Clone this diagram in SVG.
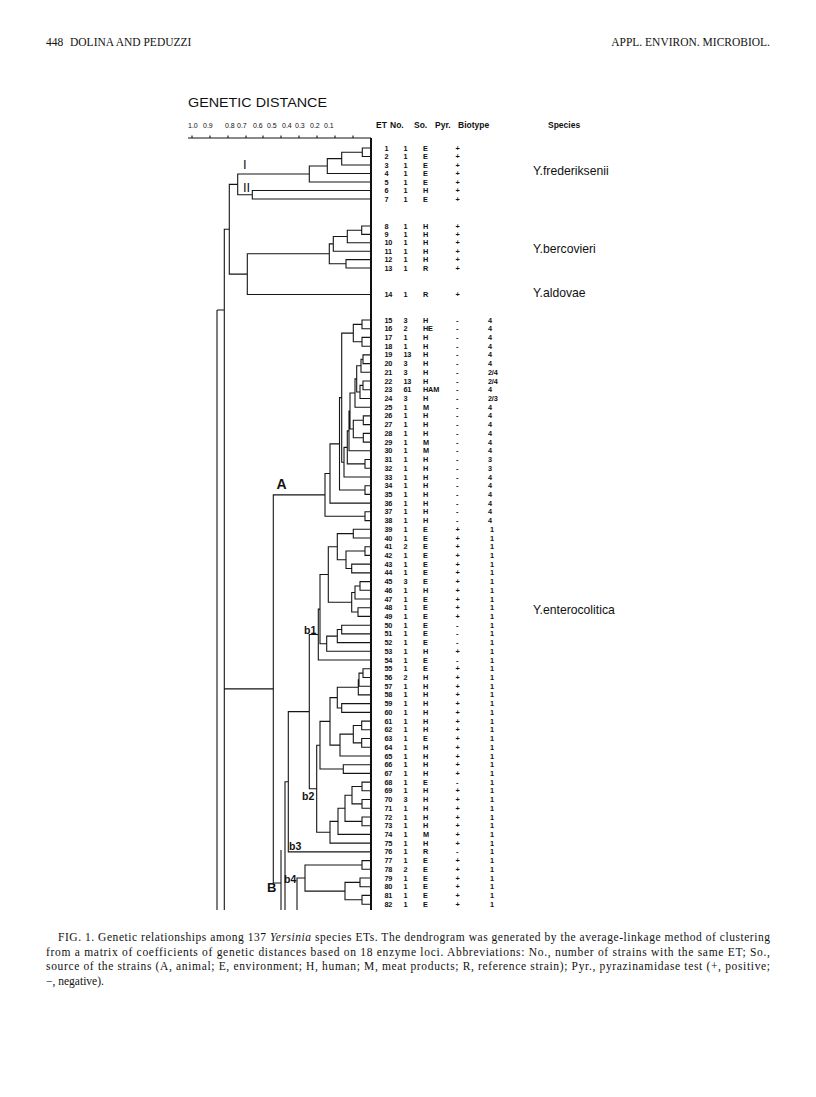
<svg xmlns="http://www.w3.org/2000/svg" width="816" height="1097" viewBox="0 0 816 1097">
<style>
.hd{font-family:"Liberation Serif",serif;font-size:11.5px;fill:#111}
.cap{font-family:"Liberation Serif",serif;font-size:11.5px;fill:#111}
.ax{font-family:"Liberation Sans",sans-serif;font-size:7px;fill:#111}
.ch{font-family:"Liberation Sans",sans-serif;font-size:8.5px;font-weight:bold;fill:#111}
.t{font-family:"Liberation Sans",sans-serif;font-size:7.3px;font-weight:bold;letter-spacing:-0.2px;fill:#111}
.sp{font-family:"Liberation Sans",sans-serif;font-size:12.2px;fill:#111}
.lb{font-family:"Liberation Sans",sans-serif;font-size:13px;fill:#111}
.lbb{font-family:"Liberation Sans",sans-serif;font-size:10.5px;font-weight:bold;fill:#111}
.ln{fill:none;stroke:#151515;stroke-width:1.1}
</style>
<rect width="816" height="1097" fill="#fff"/>
<g id="header">
<text class="hd" x="46" y="46">448</text>
<text class="hd" x="70" y="46">DOLINA AND PEDUZZI</text>
<text class="hd" x="770" y="46" text-anchor="end">APPL. ENVIRON. MICROBIOL.</text>
</g>
<g id="axis">
<text x="188" y="107" font-family="Liberation Sans, sans-serif" font-size="13.5" textLength="139" lengthAdjust="spacingAndGlyphs" fill="#111">GENETIC DISTANCE</text>
<text class="ax" x="188" y="128">1.0</text>
<text class="ax" x="203" y="128">0.9</text>
<text class="ax" x="225" y="128">0.8</text>
<text class="ax" x="237" y="128">0.7</text>
<text class="ax" x="253" y="128">0.6</text>
<text class="ax" x="267" y="128">0.5</text>
<text class="ax" x="282" y="128">0.4</text>
<text class="ax" x="295" y="128">0.3</text>
<text class="ax" x="310" y="128">0.2</text>
<text class="ax" x="324" y="128">0.1</text>
<path class="ln" d="M188 138H371M192 138V135.5M210 138V135.5M228 138V135.5M246 138V135.5M263 138V135.5M281 138V135.5M299 138V135.5M317 138V135.5M335 138V135.5M353 138V135.5"/>
</g>
<g id="column-headers">
<text class="ch" x="376" y="128">ET</text>
<text class="ch" x="390" y="128">No.</text>
<text class="ch" x="414" y="128">So.</text>
<text class="ch" x="435" y="128">Pyr.</text>
<text class="ch" x="458" y="128">Biotype</text>
<text class="ch" x="548" y="128">Species</text>
</g>
<g id="connectors">
<path d="M371 138V910" fill="none" stroke="#111" stroke-width="2"/>
<path class="ln" d="M371 148H362.3V156.5H371M362.3 152.25H341.7V165H371M341.7 158.6H327.3V173.5H371M327.3 166.05H309.3V182H371M371 190.5H252.3V199H371M309.3 174H237.7V194.75H252.3"/>
<path class="ln" d="M371 226H361.7V234.4H371M361.7 230.2H347.3V242.8H371M347.3 236.5H333.3V251.2H371M371 259.6H346V268H371M333.3 243.85H329.3V263.8H346M329.3 253.8H247.3V294.5H371M237.7 184.4H229.3V274.15H247.3"/>
<path class="ln" d="M229.3 229.3H224.3V910M273.3 688.9H224.3M217 310V910M217 310H224.3"/>
<path class="ln" d="M371 320H362V328.7H371M371 337.4H362V346.2H371M362 324.35H353.3V341.8H362M371 354.9H363V363.6H371M363 359.25H361V372.3H371M371 381H363V389.8H371M363 385.4H360V398.5H371M361 365.8H356.7V391.95H360M356.7 378.9H355V407.2H371M371 415.9H363.3V424.6H371M371 433.4H363.3V442.1H371M363.3 420.25H353.3V437.75H363.3M355 393.05H350V429H353.3M350 411H349V450.8H371M371 459.5H365V468.2H371M349 430.9H347.3V463.85H365M347.3 447.4H344V477H371M353.3 333.1H341.7V462.2H344M371 485.7H365V494.4H371M341.7 397.65H339.5V490.05H365M339.5 443.85H330V503.1H371M371 511.8H365V520.6H371M330 473.5H325V516.2H365"/>
<path class="ln" d="M371 529.3H353.3V538H371M371 546.7H365V555.4H371M371 564.1H351.7V572.9H371M365 551.05H346V568.5H351.7M353.3 533.65H337.3V559.8H346M371 581.6H360V590.3H371M360 585.95H355V599H371M371 607.7H358V616.4H371M355 592.5H351.7V612.05H358M337.3 546.7H328.3V602.3H351.7M371 625.2H341.7V633.9H371M341.7 629.55H337.3V642.6H371M337.3 636.1H326.7V651.3H371M328.3 574.5H320V643.7H326.7M320 609.1H318.3V660H371"/>
<path class="ln" d="M371 668.8H363V677.5H371M363 673.15H359V686.2H371M359 679.7H358.3V694.9H371M371 703.6H341.7V712.4H371M358.3 687.3H337.3V708H341.7M371 721.1H361.7V729.8H371M371 738.5H361.7V747.2H371M361.7 725.45H353.3V742.85H361.7M353.3 734.15H340V756H371M337.3 697.65H330V745.1H340M371 764.7H343.3V773.4H371M330 721.4H320V769.05H343.3M371 782.1H362V790.8H371M371 799.5H362V808.3H371M362 786.45H352V803.9H362M371 817H362V825.7H371M352 795.2H345V821.35H362M345 808.3H338V834.4H371M338 821.35H330V843.1H371M320 745.2H316.7V832.2H330M318.3 634.55H309.3V788.7H316.7M309.3 711.6H288.3V851.9H371"/>
<path class="ln" d="M371 860.6H362V869.3H371M371 878H360V886.7H371M371 895.4H362V904.2H371M360 882.35H345V899.8H362M362 864.95H305V891.1H345M305 878H297V910M288.3 781.75H285V910M325 494.85H273.3V883H281M281 850V910"/>
</g>
<g id="cluster-labels">
<text class="lb" x="243" y="168.5">I</text>
<text class="lb" x="243" y="192">II</text>
<text x="276.5" y="489" font-family="Liberation Sans, sans-serif" font-size="14" font-weight="bold" fill="#111">A</text>
<text class="lbb" x="304" y="634">b1</text>
<text class="lbb" x="302" y="800">b2</text>
<text class="lbb" x="289" y="849.5">b3</text>
<text class="lbb" x="284" y="883">b4</text>
<text x="267" y="892" font-family="Liberation Sans, sans-serif" font-size="13" font-weight="bold" fill="#111">B</text>
</g>
<g id="species">
<text class="sp" x="533" y="174.5">Y.frederiksenii</text>
<text class="sp" x="533" y="252.5">Y.bercovieri</text>
<text class="sp" x="533" y="297">Y.aldovae</text>
<text class="sp" x="533" y="613.5">Y.enterocolitica</text>
</g>
<g id="table" class="t">
<text y="150.5"><tspan x="384.5">1</tspan><tspan x="403.5">1</tspan><tspan x="423">E</tspan><tspan x="455.5">+</tspan></text>
<text y="159"><tspan x="384.5">2</tspan><tspan x="403.5">1</tspan><tspan x="423">E</tspan><tspan x="455.5">+</tspan></text>
<text y="167.5"><tspan x="384.5">3</tspan><tspan x="403.5">1</tspan><tspan x="423">E</tspan><tspan x="455.5">+</tspan></text>
<text y="176"><tspan x="384.5">4</tspan><tspan x="403.5">1</tspan><tspan x="423">E</tspan><tspan x="455.5">+</tspan></text>
<text y="184.5"><tspan x="384.5">5</tspan><tspan x="403.5">1</tspan><tspan x="423">E</tspan><tspan x="455.5">+</tspan></text>
<text y="193"><tspan x="384.5">6</tspan><tspan x="403.5">1</tspan><tspan x="423">H</tspan><tspan x="455.5">+</tspan></text>
<text y="201.5"><tspan x="384.5">7</tspan><tspan x="403.5">1</tspan><tspan x="423">E</tspan><tspan x="455.5">+</tspan></text>
<text y="228.5"><tspan x="384.5">8</tspan><tspan x="403.5">1</tspan><tspan x="423">H</tspan><tspan x="455.5">+</tspan></text>
<text y="236.9"><tspan x="384.5">9</tspan><tspan x="403.5">1</tspan><tspan x="423">H</tspan><tspan x="455.5">+</tspan></text>
<text y="245.3"><tspan x="384.5">10</tspan><tspan x="403.5">1</tspan><tspan x="423">H</tspan><tspan x="455.5">+</tspan></text>
<text y="253.7"><tspan x="384.5">11</tspan><tspan x="403.5">1</tspan><tspan x="423">H</tspan><tspan x="455.5">+</tspan></text>
<text y="262.1"><tspan x="384.5">12</tspan><tspan x="403.5">1</tspan><tspan x="423">H</tspan><tspan x="455.5">+</tspan></text>
<text y="270.5"><tspan x="384.5">13</tspan><tspan x="403.5">1</tspan><tspan x="423">R</tspan><tspan x="455.5">+</tspan></text>
<text y="297"><tspan x="384.5">14</tspan><tspan x="403.5">1</tspan><tspan x="423">R</tspan><tspan x="455.5">+</tspan></text>
<text y="322.5"><tspan x="384.5">15</tspan><tspan x="403.5">3</tspan><tspan x="423">H</tspan><tspan x="456">-</tspan><tspan x="488">4</tspan></text>
<text y="331.2"><tspan x="384.5">16</tspan><tspan x="403.5">2</tspan><tspan x="423">HE</tspan><tspan x="456">-</tspan><tspan x="488">4</tspan></text>
<text y="339.9"><tspan x="384.5">17</tspan><tspan x="403.5">1</tspan><tspan x="423">H</tspan><tspan x="456">-</tspan><tspan x="488">4</tspan></text>
<text y="348.7"><tspan x="384.5">18</tspan><tspan x="403.5">1</tspan><tspan x="423">H</tspan><tspan x="456">-</tspan><tspan x="488">4</tspan></text>
<text y="357.4"><tspan x="384.5">19</tspan><tspan x="403.5">13</tspan><tspan x="423">H</tspan><tspan x="456">-</tspan><tspan x="488">4</tspan></text>
<text y="366.1"><tspan x="384.5">20</tspan><tspan x="403.5">3</tspan><tspan x="423">H</tspan><tspan x="456">-</tspan><tspan x="488">4</tspan></text>
<text y="374.8"><tspan x="384.5">21</tspan><tspan x="403.5">3</tspan><tspan x="423">H</tspan><tspan x="456">-</tspan><tspan x="488">2/4</tspan></text>
<text y="383.5"><tspan x="384.5">22</tspan><tspan x="403.5">13</tspan><tspan x="423">H</tspan><tspan x="456">-</tspan><tspan x="488">2/4</tspan></text>
<text y="392.3"><tspan x="384.5">23</tspan><tspan x="403.5">61</tspan><tspan x="423">HAM</tspan><tspan x="456">-</tspan><tspan x="488">4</tspan></text>
<text y="401"><tspan x="384.5">24</tspan><tspan x="403.5">3</tspan><tspan x="423">H</tspan><tspan x="456">-</tspan><tspan x="488">2/3</tspan></text>
<text y="409.7"><tspan x="384.5">25</tspan><tspan x="403.5">1</tspan><tspan x="423">M</tspan><tspan x="456">-</tspan><tspan x="488">4</tspan></text>
<text y="418.4"><tspan x="384.5">26</tspan><tspan x="403.5">1</tspan><tspan x="423">H</tspan><tspan x="456">-</tspan><tspan x="488">4</tspan></text>
<text y="427.1"><tspan x="384.5">27</tspan><tspan x="403.5">1</tspan><tspan x="423">H</tspan><tspan x="456">-</tspan><tspan x="488">4</tspan></text>
<text y="435.9"><tspan x="384.5">28</tspan><tspan x="403.5">1</tspan><tspan x="423">H</tspan><tspan x="456">-</tspan><tspan x="488">4</tspan></text>
<text y="444.6"><tspan x="384.5">29</tspan><tspan x="403.5">1</tspan><tspan x="423">M</tspan><tspan x="456">-</tspan><tspan x="488">4</tspan></text>
<text y="453.3"><tspan x="384.5">30</tspan><tspan x="403.5">1</tspan><tspan x="423">M</tspan><tspan x="456">-</tspan><tspan x="488">4</tspan></text>
<text y="462"><tspan x="384.5">31</tspan><tspan x="403.5">1</tspan><tspan x="423">H</tspan><tspan x="456">-</tspan><tspan x="488">3</tspan></text>
<text y="470.7"><tspan x="384.5">32</tspan><tspan x="403.5">1</tspan><tspan x="423">H</tspan><tspan x="456">-</tspan><tspan x="488">3</tspan></text>
<text y="479.5"><tspan x="384.5">33</tspan><tspan x="403.5">1</tspan><tspan x="423">H</tspan><tspan x="456">-</tspan><tspan x="488">4</tspan></text>
<text y="488.2"><tspan x="384.5">34</tspan><tspan x="403.5">1</tspan><tspan x="423">H</tspan><tspan x="456">-</tspan><tspan x="488">4</tspan></text>
<text y="496.9"><tspan x="384.5">35</tspan><tspan x="403.5">1</tspan><tspan x="423">H</tspan><tspan x="456">-</tspan><tspan x="488">4</tspan></text>
<text y="505.6"><tspan x="384.5">36</tspan><tspan x="403.5">1</tspan><tspan x="423">H</tspan><tspan x="456">-</tspan><tspan x="488">4</tspan></text>
<text y="514.3"><tspan x="384.5">37</tspan><tspan x="403.5">1</tspan><tspan x="423">H</tspan><tspan x="456">-</tspan><tspan x="488">4</tspan></text>
<text y="523.1"><tspan x="384.5">38</tspan><tspan x="403.5">1</tspan><tspan x="423">H</tspan><tspan x="456">-</tspan><tspan x="488">4</tspan></text>
<text y="531.8"><tspan x="384.5">39</tspan><tspan x="403.5">1</tspan><tspan x="423">E</tspan><tspan x="455.5">+</tspan><tspan x="490">1</tspan></text>
<text y="540.5"><tspan x="384.5">40</tspan><tspan x="403.5">1</tspan><tspan x="423">E</tspan><tspan x="455.5">+</tspan><tspan x="490">1</tspan></text>
<text y="549.2"><tspan x="384.5">41</tspan><tspan x="403.5">2</tspan><tspan x="423">E</tspan><tspan x="455.5">+</tspan><tspan x="490">1</tspan></text>
<text y="557.9"><tspan x="384.5">42</tspan><tspan x="403.5">1</tspan><tspan x="423">E</tspan><tspan x="455.5">+</tspan><tspan x="490">1</tspan></text>
<text y="566.6"><tspan x="384.5">43</tspan><tspan x="403.5">1</tspan><tspan x="423">E</tspan><tspan x="455.5">+</tspan><tspan x="490">1</tspan></text>
<text y="575.4"><tspan x="384.5">44</tspan><tspan x="403.5">1</tspan><tspan x="423">E</tspan><tspan x="455.5">+</tspan><tspan x="490">1</tspan></text>
<text y="584.1"><tspan x="384.5">45</tspan><tspan x="403.5">3</tspan><tspan x="423">E</tspan><tspan x="455.5">+</tspan><tspan x="490">1</tspan></text>
<text y="592.8"><tspan x="384.5">46</tspan><tspan x="403.5">1</tspan><tspan x="423">H</tspan><tspan x="455.5">+</tspan><tspan x="490">1</tspan></text>
<text y="601.5"><tspan x="384.5">47</tspan><tspan x="403.5">1</tspan><tspan x="423">E</tspan><tspan x="455.5">+</tspan><tspan x="490">1</tspan></text>
<text y="610.2"><tspan x="384.5">48</tspan><tspan x="403.5">1</tspan><tspan x="423">E</tspan><tspan x="455.5">+</tspan><tspan x="490">1</tspan></text>
<text y="618.9"><tspan x="384.5">49</tspan><tspan x="403.5">1</tspan><tspan x="423">E</tspan><tspan x="455.5">+</tspan><tspan x="490">1</tspan></text>
<text y="627.7"><tspan x="384.5">50</tspan><tspan x="403.5">1</tspan><tspan x="423">E</tspan><tspan x="456">-</tspan><tspan x="490">1</tspan></text>
<text y="636.4"><tspan x="384.5">51</tspan><tspan x="403.5">1</tspan><tspan x="423">E</tspan><tspan x="456">-</tspan><tspan x="490">1</tspan></text>
<text y="645.1"><tspan x="384.5">52</tspan><tspan x="403.5">1</tspan><tspan x="423">E</tspan><tspan x="456">-</tspan><tspan x="490">1</tspan></text>
<text y="653.8"><tspan x="384.5">53</tspan><tspan x="403.5">1</tspan><tspan x="423">H</tspan><tspan x="455.5">+</tspan><tspan x="490">1</tspan></text>
<text y="662.5"><tspan x="384.5">54</tspan><tspan x="403.5">1</tspan><tspan x="423">E</tspan><tspan x="456">-</tspan><tspan x="490">1</tspan></text>
<text y="671.3"><tspan x="384.5">55</tspan><tspan x="403.5">1</tspan><tspan x="423">E</tspan><tspan x="455.5">+</tspan><tspan x="490">1</tspan></text>
<text y="680"><tspan x="384.5">56</tspan><tspan x="403.5">2</tspan><tspan x="423">H</tspan><tspan x="455.5">+</tspan><tspan x="490">1</tspan></text>
<text y="688.7"><tspan x="384.5">57</tspan><tspan x="403.5">1</tspan><tspan x="423">H</tspan><tspan x="455.5">+</tspan><tspan x="490">1</tspan></text>
<text y="697.4"><tspan x="384.5">58</tspan><tspan x="403.5">1</tspan><tspan x="423">H</tspan><tspan x="455.5">+</tspan><tspan x="490">1</tspan></text>
<text y="706.1"><tspan x="384.5">59</tspan><tspan x="403.5">1</tspan><tspan x="423">H</tspan><tspan x="455.5">+</tspan><tspan x="490">1</tspan></text>
<text y="714.9"><tspan x="384.5">60</tspan><tspan x="403.5">1</tspan><tspan x="423">H</tspan><tspan x="455.5">+</tspan><tspan x="490">1</tspan></text>
<text y="723.6"><tspan x="384.5">61</tspan><tspan x="403.5">1</tspan><tspan x="423">H</tspan><tspan x="455.5">+</tspan><tspan x="490">1</tspan></text>
<text y="732.3"><tspan x="384.5">62</tspan><tspan x="403.5">1</tspan><tspan x="423">H</tspan><tspan x="455.5">+</tspan><tspan x="490">1</tspan></text>
<text y="741"><tspan x="384.5">63</tspan><tspan x="403.5">1</tspan><tspan x="423">E</tspan><tspan x="455.5">+</tspan><tspan x="490">1</tspan></text>
<text y="749.7"><tspan x="384.5">64</tspan><tspan x="403.5">1</tspan><tspan x="423">H</tspan><tspan x="455.5">+</tspan><tspan x="490">1</tspan></text>
<text y="758.5"><tspan x="384.5">65</tspan><tspan x="403.5">1</tspan><tspan x="423">H</tspan><tspan x="455.5">+</tspan><tspan x="490">1</tspan></text>
<text y="767.2"><tspan x="384.5">66</tspan><tspan x="403.5">1</tspan><tspan x="423">H</tspan><tspan x="455.5">+</tspan><tspan x="490">1</tspan></text>
<text y="775.9"><tspan x="384.5">67</tspan><tspan x="403.5">1</tspan><tspan x="423">H</tspan><tspan x="455.5">+</tspan><tspan x="490">1</tspan></text>
<text y="784.6"><tspan x="384.5">68</tspan><tspan x="403.5">1</tspan><tspan x="423">E</tspan><tspan x="456">-</tspan><tspan x="490">1</tspan></text>
<text y="793.3"><tspan x="384.5">69</tspan><tspan x="403.5">1</tspan><tspan x="423">H</tspan><tspan x="455.5">+</tspan><tspan x="490">1</tspan></text>
<text y="802"><tspan x="384.5">70</tspan><tspan x="403.5">3</tspan><tspan x="423">H</tspan><tspan x="455.5">+</tspan><tspan x="490">1</tspan></text>
<text y="810.8"><tspan x="384.5">71</tspan><tspan x="403.5">1</tspan><tspan x="423">H</tspan><tspan x="455.5">+</tspan><tspan x="490">1</tspan></text>
<text y="819.5"><tspan x="384.5">72</tspan><tspan x="403.5">1</tspan><tspan x="423">H</tspan><tspan x="455.5">+</tspan><tspan x="490">1</tspan></text>
<text y="828.2"><tspan x="384.5">73</tspan><tspan x="403.5">1</tspan><tspan x="423">H</tspan><tspan x="455.5">+</tspan><tspan x="490">1</tspan></text>
<text y="836.9"><tspan x="384.5">74</tspan><tspan x="403.5">1</tspan><tspan x="423">M</tspan><tspan x="455.5">+</tspan><tspan x="490">1</tspan></text>
<text y="845.6"><tspan x="384.5">75</tspan><tspan x="403.5">1</tspan><tspan x="423">H</tspan><tspan x="455.5">+</tspan><tspan x="490">1</tspan></text>
<text y="854.4"><tspan x="384.5">76</tspan><tspan x="403.5">1</tspan><tspan x="423">R</tspan><tspan x="456">-</tspan><tspan x="490">1</tspan></text>
<text y="863.1"><tspan x="384.5">77</tspan><tspan x="403.5">1</tspan><tspan x="423">E</tspan><tspan x="455.5">+</tspan><tspan x="490">1</tspan></text>
<text y="871.8"><tspan x="384.5">78</tspan><tspan x="403.5">2</tspan><tspan x="423">E</tspan><tspan x="455.5">+</tspan><tspan x="490">1</tspan></text>
<text y="880.5"><tspan x="384.5">79</tspan><tspan x="403.5">1</tspan><tspan x="423">E</tspan><tspan x="455.5">+</tspan><tspan x="490">1</tspan></text>
<text y="889.2"><tspan x="384.5">80</tspan><tspan x="403.5">1</tspan><tspan x="423">E</tspan><tspan x="455.5">+</tspan><tspan x="490">1</tspan></text>
<text y="897.9"><tspan x="384.5">81</tspan><tspan x="403.5">1</tspan><tspan x="423">E</tspan><tspan x="455.5">+</tspan><tspan x="490">1</tspan></text>
<text y="906.7"><tspan x="384.5">82</tspan><tspan x="403.5">1</tspan><tspan x="423">E</tspan><tspan x="455.5">+</tspan><tspan x="490">1</tspan></text>
</g>
<g id="caption" class="cap">
<text x="58" y="941" textLength="712" lengthAdjust="spacing">FIG. 1. Genetic relationships among 137 <tspan font-style="italic">Yersinia</tspan> species ETs. The dendrogram was generated by the average-linkage method of clustering</text>
<text x="46" y="955.5" textLength="724" lengthAdjust="spacing">from a matrix of coefficients of genetic distances based on 18 enzyme loci. Abbreviations: No., number of strains with the same ET; So.,</text>
<text x="46" y="970" textLength="724" lengthAdjust="spacing">source of the strains (A, animal; E, environment; H, human; M, meat products; R, reference strain); Pyr., pyrazinamidase test (+, positive;</text>
<text x="46" y="984.5">−, negative).</text>
</g>
</svg>
